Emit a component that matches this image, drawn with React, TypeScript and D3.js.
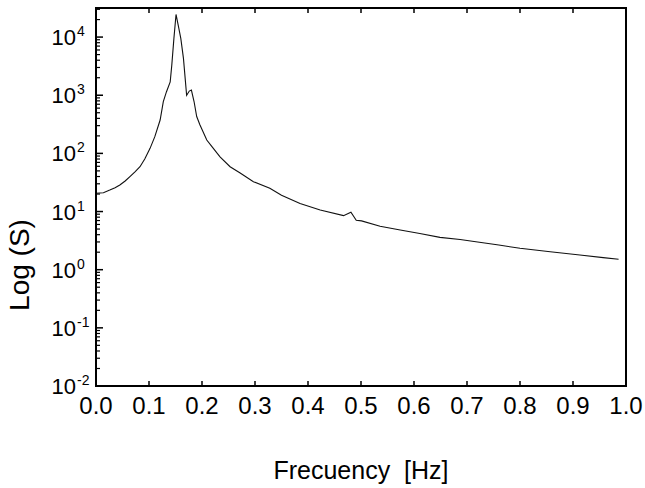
import React, {useRef, useEffect} from "react"
import * as d3 from "d3"

// frequency in Hz, spectrum S
const freq = [0.000, 0.014, 0.026, 0.036, 0.045, 0.055, 0.064, 0.074, 0.083, 0.092, 0.102, 0.111,
    0.121, 0.127, 0.133, 0.140, 0.143, 0.147, 0.151, 0.155, 0.160, 0.165, 0.171, 0.176, 0.180,
    0.185, 0.190, 0.196, 0.209, 0.221, 0.234, 0.253, 0.272, 0.297, 0.328, 0.350, 0.385, 0.423,
    0.467, 0.481, 0.491, 0.501, 0.536, 0.574, 0.611, 0.649, 0.687, 0.720, 0.760, 0.800, 0.857,
    0.913, 0.957, 0.986]
const spectrum = [20.6, 21.1, 23.4, 25.7, 28.6, 33.5, 40, 48.4, 59, 80, 122, 194,
    375, 776, 1150, 1700, 3300, 9500, 24500, 16200, 9500, 4300, 1000, 1180, 1230,
    780, 430, 310, 170, 123, 87, 59, 46, 32.6, 25.1, 19.0, 13.8, 10.6,
    8.5, 9.7, 7.1, 6.9, 5.6, 4.8, 4.2, 3.6, 3.3, 3.0, 2.65, 2.33, 2.04,
    1.79, 1.61, 1.51]

const xTicks = [0, 0.1, 0.2, 0.3, 0.4, 0.5, 0.6, 0.7, 0.8, 0.9, 1.0]
const yExponents = [-2, -1, 0, 1, 2, 3, 4]

const font = "'Liberation Sans', Arial, sans-serif"

const App = () => {
    let element = useRef<SVGSVGElement>(null)

    useEffect(() => {
        let margin = {top: 8, right: 19, bottom: 102, left: 96},
            width = 645 - margin.left - margin.right,
            height = 488 - margin.top - margin.bottom

        let root = d3.select(element.current)
        root.selectAll("*").remove()

        let svg = root.append("g")
            .attr("transform", "translate(" + margin.left + "," + margin.top + ")")

        let x = d3.scaleLinear().domain([0, 1]).range([0, width])
        let y = d3.scaleLog().domain([1e-2, Math.pow(10, 4.5)]).range([height, 0])

        // minor + major ticks on the left, pointing inward
        let minor: number[] = []
        for (let e = -2; e <= 4; e++) {
            for (let m = 2; m <= 9; m++) {
                let v = m * Math.pow(10, e)
                if (v <= y.domain()[1]) minor.push(v)
            }
        }
        svg.append("g")
            .selectAll("line.minor")
            .data(minor)
            .enter()
                .append("line")
                .attr("x1", 0).attr("x2", 4)
                .attr("y1", d => y(d)).attr("y2", d => y(d))
                .attr("stroke", "#000").attr("stroke-width", 1.2)

        svg.append("g")
            .selectAll("line")
            .data(yExponents)
            .enter()
                .append("line")
                .attr("x1", 0).attr("x2", 7)
                .attr("y1", d => y(Math.pow(10, d))).attr("y2", d => y(Math.pow(10, d)))
                .attr("stroke", "#000").attr("stroke-width", 1.5)

        // y labels: 10 with exponent
        let yl = svg.append("g").selectAll("g")
            .data(yExponents)
            .enter()
                .append("g")
                .attr("transform", d => "translate(0," + y(Math.pow(10, d)) + ")")
        yl.append("text")
            .attr("x", -20).attr("y", 8)
            .attr("text-anchor", "end")
            .style("font-family", font).style("font-size", "22px")
            .text("10")
        yl.append("text")
            .attr("x", -19).attr("y", -1)
            .attr("text-anchor", "start")
            .style("font-family", font).style("font-size", "14px")
            .text(d => d < 0 ? "-" + Math.abs(d) : String(d))

        // x ticks bottom and top
        svg.append("g")
            .selectAll("line")
            .data(xTicks)
            .enter()
                .append("line")
                .attr("x1", d => x(d)).attr("x2", d => x(d))
                .attr("y1", height).attr("y2", height - 5)
                .attr("stroke", "#000").attr("stroke-width", 1.5)
        svg.append("g")
            .selectAll("line")
            .data(xTicks)
            .enter()
                .append("line")
                .attr("x1", d => x(d)).attr("x2", d => x(d))
                .attr("y1", 0).attr("y2", 5)
                .attr("stroke", "#000").attr("stroke-width", 1.5)

        svg.append("g")
            .selectAll("text")
            .data(xTicks)
            .enter()
                .append("text")
                .attr("x", d => x(d))
                .attr("y", height + 28)
                .attr("text-anchor", "middle")
                .style("font-family", font).style("font-size", "24px")
                .text(d => d.toFixed(1))

        // the curve
        let pts: [number, number][] = freq.map((f, i) => [f, spectrum[i]])
        svg.append("path")
            .datum(pts)
            .attr("fill", "none")
            .attr("stroke", "#111")
            .attr("stroke-width", 1.1)
            .attr("d", d3.line<[number, number]>()
                .x(d => x(d[0]))
                .y(d => y(d[1])))

        // frame
        svg.append("rect")
            .attr("x", 0).attr("y", 0)
            .attr("width", width).attr("height", height)
            .attr("fill", "none")
            .attr("stroke", "#000").attr("stroke-width", 2)

        root.append("text")
            .attr("transform", "translate(29," + 265 + ") rotate(-90)")
            .attr("text-anchor", "middle")
            .style("font-family", font).style("font-size", "28px")
            .text("Log (S)")

        root.append("text")
            .attr("x", margin.left + width / 2)
            .attr("y", 479)
            .attr("text-anchor", "middle")
            .style("font-family", font).style("font-size", "25px")
            .attr("xml:space", "preserve")
            .style("white-space", "pre")
            .text("Frecuency  [Hz]")
    })

    return (
        <svg ref={element} width={645} height={488}
            style={{position: "absolute", left: 0, top: 0, background: "#fff"}}></svg>
    )
}

export default App
